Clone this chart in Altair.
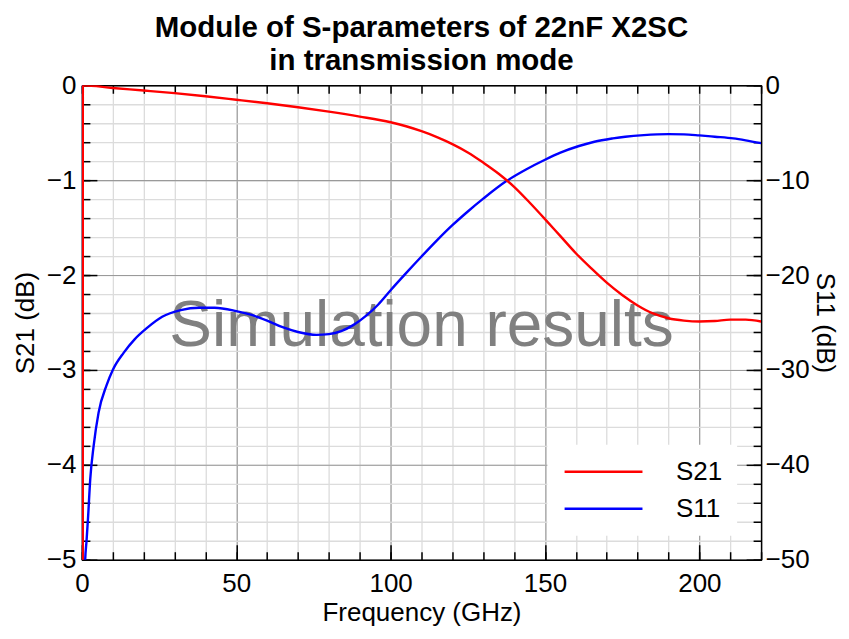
import altair as alt
import pandas as pd

# ---------------- data ----------------
FREQ_S21 = [0, 0.3, 10, 20, 30, 40, 50, 60, 70, 80, 90, 100, 105, 110, 115, 120,
            125, 130, 135, 140, 145, 150, 155, 160, 165, 170, 175, 180, 185, 190,
            195, 200, 205, 210, 215, 220]
S21_DB = [-60, 0.0, -0.028, -0.055, -0.083, -0.115, -0.152, -0.19, -0.232, -0.278,
          -0.33, -0.39, -0.432, -0.484, -0.546, -0.62, -0.708, -0.815, -0.932,
          -1.07, -1.235, -1.41, -1.59, -1.77, -1.93, -2.08, -2.21, -2.32, -2.405,
          -2.455, -2.48, -2.49, -2.485, -2.47, -2.47, -2.49]

FREQ_S11 = [0, 0.4, 1.0, 1.5, 2, 2.7, 3.8, 5.4, 8, 10, 13.5, 17, 21, 26, 32, 38,
            43, 50, 55, 60, 65, 70, 76, 80, 84, 88, 92, 96, 100, 105, 110, 115,
            120, 125, 130, 137.5, 144, 150, 155, 161, 166, 172, 176, 182, 190, 195,
            200, 205, 211, 215, 220]
S11_DB = [0, -70, -50.5, -48, -45.5, -41.5, -38.0, -34.5, -31.6, -30.0, -28.2,
          -26.8, -25.6, -24.4, -23.7, -23.45, -23.45, -23.8, -24.2, -24.8, -25.5,
          -26.0, -26.3, -26.22, -25.9, -25.25, -24.3, -23.1, -21.6, -19.8, -18.05,
          -16.35, -14.75, -13.3, -11.95, -10.1, -8.85, -7.85, -7.1, -6.4, -5.95,
          -5.6, -5.42, -5.25, -5.15, -5.17, -5.28, -5.42, -5.6, -5.8, -6.1]

SERIES = ["S21", "S11"]
COLORS = ["#ff0000", "#0000ff"]

X_MAJOR = [0, 50, 100, 150, 200]
X_MINOR = [0, 10, 20, 30, 40, 50, 60, 70, 80, 90, 100, 110, 120, 130, 140, 150,
           160, 170, 180, 190, 200, 210, 220]
Y21_MAJOR = [0, -1, -2, -3, -4, -5]
Y21_MINOR = [0, -0.2, -0.4, -0.6, -0.8, -1, -1.2, -1.4, -1.6, -1.8, -2, -2.2, -2.4,
             -2.6, -2.8, -3, -3.2, -3.4, -3.6, -3.8, -4, -4.2, -4.4, -4.6, -4.8, -5]
Y11_MAJOR = [0, -10, -20, -30, -40, -50]
Y11_MINOR = [0, -2, -4, -6, -8, -10, -12, -14, -16, -18, -20, -22, -24, -26, -28,
             -30, -32, -34, -36, -38, -40, -42, -44, -46, -48, -50]

TITLE = ["Module of S-parameters of 22nF X2SC", "in transmission mode"]
X_TITLE = "Frequency (GHz)"
Y_LEFT_TITLE = "S21 (dB)"
Y_RIGHT_TITLE = "S11 (dB)"
WATERMARK = ["Simulation results"]
WATERMARK_F = [110]
WATERMARK_V = [-2.75]

FONT = "Liberation Sans"

s21 = pd.DataFrame({"f": FREQ_S21, "v": S21_DB, "series": SERIES[0]})
s11 = pd.DataFrame({"f": FREQ_S11, "v": S11_DB, "series": SERIES[1]})
wm = pd.DataFrame({"f": WATERMARK_F, "v": WATERMARK_V, "t": WATERMARK})

XS = alt.Scale(domain=[0, 220], nice=False, zero=False)
YL = alt.Scale(domain=[-5, 0], nice=False, zero=False)
YR = alt.Scale(domain=[-50, 0], nice=False, zero=False)

NOAX = dict(ticks=False, labels=False, domain=False, grid=False, title=None)


def ax(**kw):
    base = dict(NOAX)
    base.update(kw)
    return alt.Axis(**base)


def helper(df, yscale, xaxis, yaxis):
    return alt.Chart(df).mark_point(opacity=0, clip=True).encode(
        x=alt.X("f:Q", scale=XS, axis=xaxis),
        y=alt.Y("v:Q", scale=yscale, axis=yaxis),
    )


MINOR_GRID = "#dcdcdc"
MAJOR_GRID = "#9a9a9a"
TICK = dict(ticks=True, tickColor="black", tickWidth=1.5)
LAB = dict(labels=True, domain=True, domainColor="black", domainWidth=1.5, format="d",
           labelFontSize=26, labelFont=FONT, labelColor="black", labelFlush=False,
           labelOverlap=False, tickSize=0, titleFontSize=26, titleFont=FONT,
           titleFontWeight="normal", titleColor="black")

layers = [
    # minor grid
    helper(s21, YL,
           ax(orient="bottom", values=X_MINOR, grid=True, gridColor=MINOR_GRID, gridWidth=1.3),
           ax(orient="left", values=Y21_MINOR, grid=True, gridColor=MINOR_GRID, gridWidth=1.3)),
    # major grid
    helper(s21, YL,
           ax(orient="bottom", values=X_MAJOR, grid=True, gridColor=MAJOR_GRID, gridWidth=1.1),
           ax(orient="left", values=Y21_MAJOR, grid=True, gridColor=MAJOR_GRID, gridWidth=1.1)),
    # labelled bottom axis + labelled left axis
    helper(s21, YL,
           ax(orient="bottom", values=X_MAJOR, labelPadding=11, title=X_TITLE,
              titlePadding=3, **LAB),
           ax(orient="left", values=Y21_MAJOR, labelPadding=6, title=Y_LEFT_TITLE,
              titlePadding=8, **LAB)),
    # major inward ticks bottom / left
    helper(s21, YL,
           ax(orient="bottom", values=X_MAJOR, offset=-15, tickSize=15, **TICK),
           ax(orient="left", values=Y21_MAJOR, offset=-15, tickSize=15, **TICK)),
    # minor inward ticks bottom / left
    helper(s21, YL,
           ax(orient="bottom", values=X_MINOR, offset=-8, tickSize=8, **TICK),
           ax(orient="left", values=Y21_MINOR, offset=-8, tickSize=8, **TICK)),
    # top frame + right labelled axis
    helper(s11, YR,
           ax(orient="top", values=X_MAJOR, domain=True, domainColor="black", domainWidth=1.5),
           ax(orient="right", values=Y11_MAJOR, labelPadding=4, title=Y_RIGHT_TITLE,
              titlePadding=2, **LAB)),
    # top minor ticks + right major ticks
    helper(s11, YR,
           ax(orient="top", values=X_MINOR, offset=-8, tickSize=8, **TICK),
           ax(orient="right", values=Y11_MAJOR, offset=-15, tickSize=15, **TICK)),
    # right minor ticks
    helper(s11, YR,
           alt.Axis(**NOAX),
           ax(orient="right", values=Y11_MINOR, offset=-8, tickSize=8, **TICK)),
]

watermark = alt.Chart(wm).mark_text(
    font=FONT, fontSize=64, color="#808080", baseline="alphabetic", align="center"
).encode(
    x=alt.X("f:Q", scale=XS, axis=None),
    y=alt.Y("v:Q", scale=YL, axis=None),
    text="t:N",
)

legend = alt.Legend(
    title=None, orient="none", legendX=466, legendY=360, direction="vertical",
    fillColor="white", padding=14, symbolType="M-4,0H4", symbolSize=380,
    symbolOffset=29.25, symbolStrokeWidth=2.4, symbolOpacity=1, labelFontSize=26,
    labelFont=FONT, labelColor="black", labelOffset=59.5, rowPadding=11,
)
color = alt.Color("series:N", scale=alt.Scale(domain=SERIES, range=COLORS), legend=legend)

line11 = alt.Chart(s11).mark_line(clip=True, strokeWidth=2.4, interpolate="monotone").encode(
    x=alt.X("f:Q", scale=XS, axis=None),
    y=alt.Y("v:Q", scale=YR, axis=None),
    color=color,
)
line21 = alt.Chart(s21).mark_line(clip=True, strokeWidth=2.4, interpolate="monotone").encode(
    x=alt.X("f:Q", scale=XS, axis=None),
    y=alt.Y("v:Q", scale=YL, axis=None),
    color=color,
)

chart = alt.layer(*layers, watermark, line11, line21).resolve_scale(
    x="independent", y="independent"
).resolve_axis(
    x="independent", y="independent"
).properties(
    width=680, height=475,
    padding={"left": 4, "top": 4, "right": 3, "bottom": 0},
    title=alt.TitleParams(text=TITLE, font=FONT, fontSize=29.5, fontWeight="bold",
                          color="black", anchor="middle", lineHeight=33, offset=-4),
).configure_view(stroke=None).configure(background="white")

chart.save("out.html", embed_options={"renderer": "svg", "actions": False})
